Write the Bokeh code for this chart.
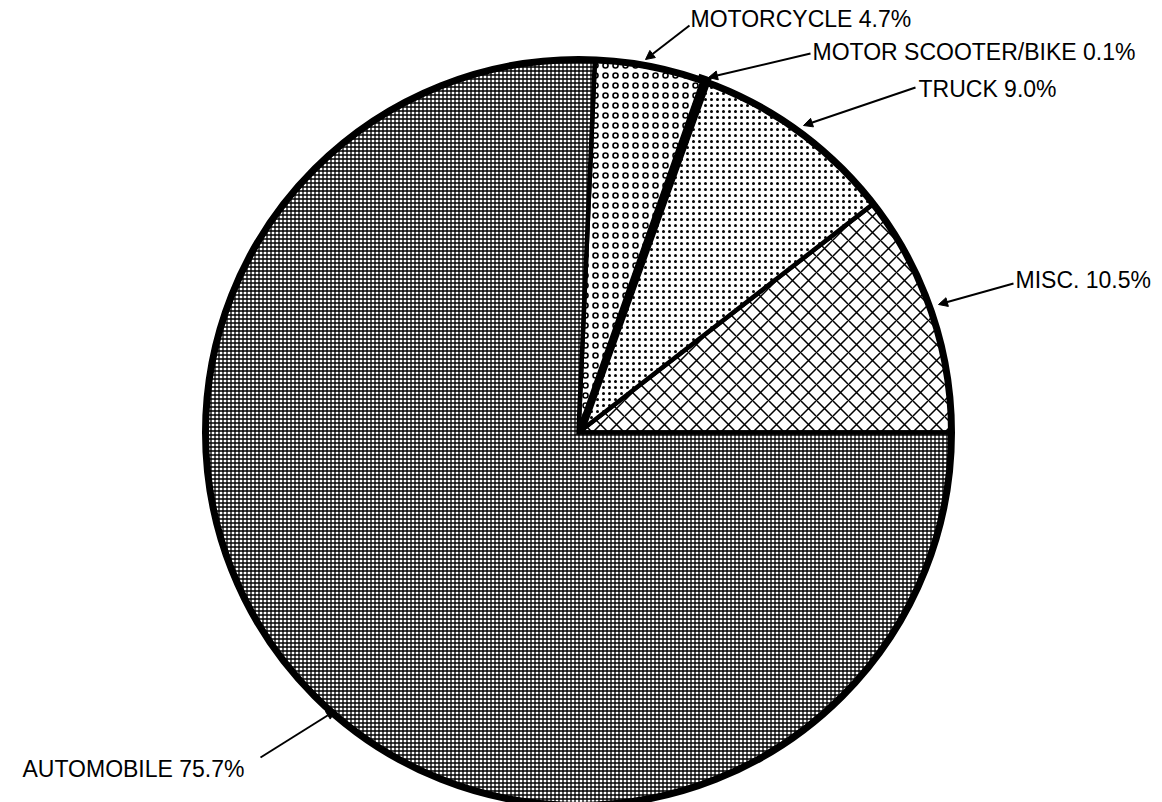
import numpy as np
from bokeh.plotting import figure
from bokeh.models import Range1d, Arrow, NormalHead, ColumnDataSource
from bokeh.core.properties import value
from bokeh.embed import file_html
from bokeh.resources import INLINE

# ---- data ----
categories = ["MISC.", "TRUCK", "MOTOR SCOOTER/BIKE", "MOTORCYCLE", "AUTOMOBILE"]
percents = [10.5, 9.0, 0.1, 4.7, 75.7]
labels = ["MISC. 10.5%", "TRUCK 9.0%", "MOTOR SCOOTER/BIKE 0.1%", "MOTORCYCLE 4.7%", "AUTOMOBILE 75.7%"]

# ---- styles (per slice) ----
hatches = ["diagonal_cross", "dot", "blank", "ring", "cross"]
hatch_scales = [16, 6, 4, 10, 4]
hatch_weights = [1.5, 2.0, 1, 1.6, 1.3]
fills = ["white", "white", "black", "white", "white"]
line_widths = [4.5, 4.5, 11, 4.5, 4.5]

W, H = 1162, 802


def Y(ry):
    # convert picture y (top-down) to data y
    return H - ry


p = figure(width=W, height=H, output_backend="svg", toolbar_location=None,
           x_range=Range1d(0, W), y_range=Range1d(0, H),
           min_border=0, outline_line_color=None)
p.axis.visible = False
p.grid.visible = False
p.background_fill_color = "white"
p.border_fill_color = "white"

cx, cy, r = 578, Y(432), 373

frac = np.array(percents) / sum(percents)
ends = np.cumsum(frac) * 2 * np.pi
starts = np.concatenate([[0.0], ends[:-1]])

src = ColumnDataSource(dict(
    start=starts, end=ends, cat=categories, hatch=hatches, hscale=hatch_scales,
    hweight=hatch_weights, fill=fills, lw=line_widths,
))

p.wedge(x=cx, y=cy, radius=r, start_angle="start", end_angle="end", direction="anticlock",
        source=src, fill_color="fill", line_color="black", line_width="lw",
        hatch_pattern="hatch", hatch_scale="hscale", hatch_weight="hweight", hatch_color="black",
        line_join="miter")

# thick outer rim
p.circle(x=[cx], y=[cy], radius=r, fill_color=None, line_color="black", line_width=7)

# ---- labels and leader arrows (layout, picture pixel coords) ----
label_pos = {
    "MOTORCYCLE": (690, 18),
    "MOTOR SCOOTER/BIKE": (812, 51),
    "TRUCK": (918, 88),
    "MISC.": (1015, 279),
    "AUTOMOBILE": (22, 768),
}
leader = {
    "MOTORCYCLE": ((689, 25), (645, 59)),
    "MOTOR SCOOTER/BIKE": ((810, 53), (708, 77)),
    "TRUCK": ((915, 87), (803, 125)),
    "MISC.": ((1013, 283), (938, 304)),
    "AUTOMOBILE": ((260, 757), (335, 710)),
}

tx = [label_pos[c][0] for c in categories]
ty = [Y(label_pos[c][1]) for c in categories]
p.text(x=tx, y=ty, text=labels, text_font=value("Liberation Sans"), text_font_size="23px",
       text_baseline="middle", text_align="left", text_color="black")

for c in categories:
    (x0, y0), (x1, y1) = leader[c]
    p.add_layout(Arrow(end=NormalHead(size=9, fill_color="black", line_color="black"),
                       x_start=x0, y_start=Y(y0), x_end=x1, y_end=Y(y1),
                       line_color="black", line_width=2))

open("out.html", "w").write(file_html(p, INLINE))
